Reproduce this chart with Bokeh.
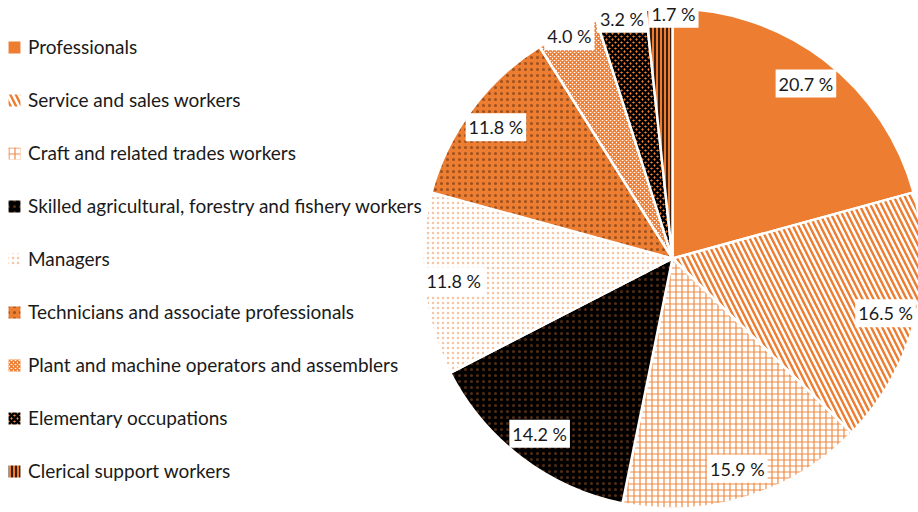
import math
from bokeh.plotting import figure
from bokeh.models import Range1d, Label, Legend, LegendItem
from bokeh.embed import file_html
from bokeh.resources import INLINE

# ---- data ----
categories = [
    "Professionals",
    "Service and sales workers",
    "Craft and related trades workers",
    "Skilled agricultural, forestry and fishery workers",
    "Managers",
    "Technicians and associate professionals",
    "Plant and machine operators and assemblers",
    "Elementary occupations",
    "Clerical support workers",
]
shares = [20.7, 16.5, 15.9, 14.2, 11.8, 11.8, 4.0, 3.2, 1.7]

# ---- styles ----
OR = "#ED7D31"
styles = [
    dict(fill_color=OR, hatch_pattern=None),
    dict(fill_color="white", hatch_pattern="\\", hatch_color=OR, hatch_scale=11, hatch_weight=2.4, hatch_alpha=1.0),
    dict(fill_color="white", hatch_pattern="+", hatch_color=OR, hatch_scale=6, hatch_weight=1.2, hatch_alpha=0.9),
    dict(fill_color="black", hatch_pattern=".", hatch_color=OR, hatch_scale=6, hatch_weight=0.2, hatch_alpha=0.35),
    dict(fill_color="white", hatch_pattern=".", hatch_color=OR, hatch_scale=5, hatch_weight=0.2, hatch_alpha=0.45),
    dict(fill_color=OR, hatch_pattern=".", hatch_color="black", hatch_scale=6, hatch_weight=0.2, hatch_alpha=0.35),
    dict(fill_color="white", hatch_pattern="x", hatch_color=OR, hatch_scale=4, hatch_weight=1.6, hatch_alpha=1.0),
    dict(fill_color=OR, hatch_pattern="x", hatch_color="black", hatch_scale=6, hatch_weight=2.5, hatch_alpha=1.0),
    dict(fill_color=OR, hatch_pattern="|", hatch_color="black", hatch_scale=4, hatch_weight=1.5, hatch_alpha=1.0),
]

W, H = 918, 512
CX, CY, R = 672, H - 258, 250
FONT = "Lato"
PAD = 3

p = figure(width=W, height=H, x_range=Range1d(0, W), y_range=Range1d(0, H),
           output_backend="svg", toolbar_location=None, min_border=0,
           x_axis_location=None, y_axis_location=None)
p.grid.visible = False
p.outline_line_color = None
p.background_fill_color = "white"

total = sum(shares)
cum = 0.0
items = []
label_specs = []
for cat, s, st in zip(categories, shares, styles):
    a0 = math.pi / 2 - 2 * math.pi * cum / total
    a1 = math.pi / 2 - 2 * math.pi * (cum + s) / total
    kw = dict(fill_color=st["fill_color"], line_color="white", line_width=2.5)
    if st["hatch_pattern"]:
        kw.update(hatch_pattern=st["hatch_pattern"], hatch_color=st["hatch_color"],
                  hatch_scale=st["hatch_scale"], hatch_weight=st["hatch_weight"],
                  hatch_alpha=st["hatch_alpha"])
    r = p.wedge(x=CX, y=CY, radius=R, start_angle=a0, end_angle=a1,
                direction="clock", **kw)
    items.append(LegendItem(label=cat, renderers=[r]))
    mid = (a0 + a1) / 2
    rf = 0.88 if s >= 5 else 0.98
    label_specs.append([CX + rf * R * math.cos(mid), CY + rf * R * math.sin(mid), f"{s:.1f} %"])
    cum += s

# simple collision avoidance for neighbouring label boxes
def box_w(t):
    return len(t) * 8.5 + 2 * PAD

for i in range(1, len(label_specs)):
    px, py, pt = label_specs[i - 1]
    x, y, t = label_specs[i]
    if abs(y - py) < 26:
        overlap = (px + box_w(pt) / 2) - (x - box_w(t) / 2)
        if overlap > -3 and x > px:
            label_specs[i][0] = x + overlap + 3

for x, y, t in label_specs:
    p.add_layout(Label(x=x, y=y, text=t, text_align="center", text_baseline="middle",
                       text_font=FONT, text_font_size="18px", text_color="#1a1a1a",
                       background_fill_color="white", padding=PAD))

legend = Legend(items=items, location=(5, 30), padding=0, margin=0, spacing=30,
                label_height=20, glyph_height=18, glyph_width=18, label_standoff=5,
                border_line_color=None, background_fill_alpha=0,
                label_text_font=FONT, label_text_font_size="19px", label_text_color="#1a1a1a")
p.add_layout(legend)

open("out.html", "w").write(file_html(p, INLINE))
